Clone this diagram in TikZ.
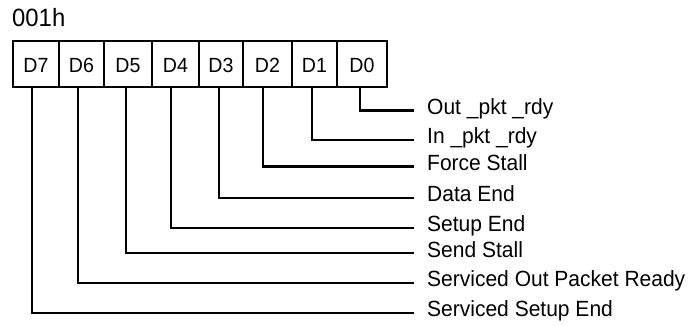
\documentclass[tikz,border=0pt]{standalone}
\usepackage{fontspec}
\setmainfont{Liberation Sans}
\newfontfamily\narrowsans[FakeStretch=0.955]{Liberation Sans}
\begin{document}
\begin{tikzpicture}[x=1pt,y=-1pt,
  cell/.style={draw,line width=2.4pt,minimum height=46pt,inner sep=0pt,
    text height=18pt,text depth=0pt,font=\narrowsans\fontsize{20.5}{20.5}\selectfont},
  lbl/.style={anchor=west,inner xsep=13pt,inner ysep=0pt,
    text height=15pt,text depth=7pt,font=\narrowsans\fontsize{22}{22}\selectfont},
  conn/.style={line width=2.2pt}]
\useasboundingbox (0,0) rectangle (689,326);
\node[anchor=base west,inner sep=0pt,font=\narrowsans\fontsize{25}{25}\selectfont] (title) at (12,27) {001h};
\node[cell,minimum width=46pt] (d7) at (36,64) {D7};
\node[cell,minimum width=45pt] (d6) at (81.5,64) {D6};
\node[cell,minimum width=48pt] (d5) at (128,64) {D5};
\node[cell,minimum width=47pt] (d4) at (175.5,64) {D4};
\node[cell,minimum width=44pt] (d3) at (221,64) {D3};
\node[cell,minimum width=49pt] (d2) at (267.5,64) {D2};
\node[cell,minimum width=45pt] (d1) at (314.5,64) {D1};
\node[cell,minimum width=50pt] (d0) at (362,64) {D0};
\node[lbl] (l0) at (414,110.5) {Out \_pkt \_rdy};
\node[lbl] (l1) at (414,140) {In \_pkt \_rdy};
\node[lbl] (l2) at (414,166.5) {Force Stall};
\node[lbl] (l3) at (414,198) {Data End};
\node[lbl] (l4) at (414,227.7) {Setup End};
\node[lbl] (l5) at (414,253.3) {Send Stall};
\node[lbl] (l6) at (414,282.7) {Serviced Out Packet Ready};
\node[lbl] (l7) at (414,312.7) {Serviced Setup End};
\draw[conn] ([xshift=-2pt]d0.south) |- (l0.west);
\draw[conn] ([xshift=-2.5pt]d1.south) |- (l1.west);
\draw[conn] ([xshift=-4.5pt]d2.south) |- (l2.west);
\draw[conn] ([xshift=-2pt]d3.south) |- (l3.west);
\draw[conn] ([xshift=-4.5pt]d4.south) |- (l4.west);
\draw[conn] ([xshift=-2pt]d5.south) |- (l5.west);
\draw[conn] ([xshift=-3.5pt]d6.south) |- (l6.west);
\draw[conn] ([xshift=-4pt]d7.south) |- (l7.west);
\end{tikzpicture}
\end{document}
